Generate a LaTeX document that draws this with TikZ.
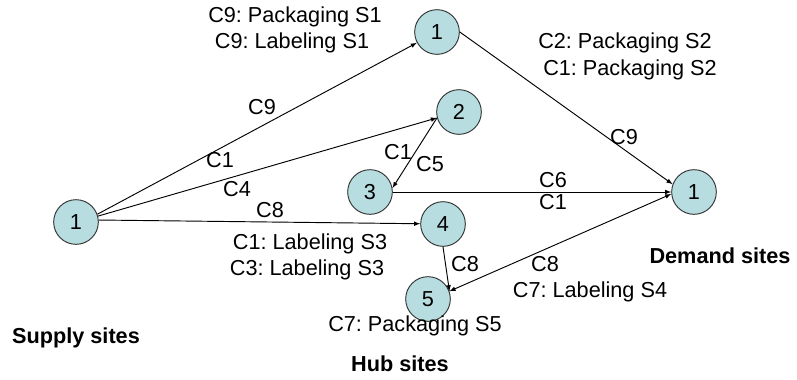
\documentclass[tikz,border=0pt]{standalone}
\usepackage{fontspec}
\setmainfont{Liberation Sans}
\usetikzlibrary{arrows}
\definecolor{sitefill}{RGB}{183,221,224}
\tikzset{
  site/.style={circle, draw=black!80, fill=sitefill, line width=0.8pt, minimum size=1.34cm, inner sep=0pt},
  flow/.style={-latex, line width=0.8pt},
  lbl/.style={inner sep=0pt},
  title/.style={inner sep=0pt, font=\fontsize{18.5}{22}\selectfont\bfseries}
}
\begin{document}
\frenchspacing
\begin{tikzpicture}[x=0.03cm, y=-0.03cm, font=\fontsize{18.5}{22}\selectfont]
	\useasboundingbox (0,0) rectangle (797,379);
	% sites
	\node[site] (s1) at (76,222) {1};
	\node[site] (h1) at (437,32) {1};
	\node[site] (h2) at (459,112) {2};
	\node[site] (h3) at (370,192) {3};
	\node[site] (h4) at (443,224) {4};
	\node[site] (h5) at (428,299) {5};
	\node[site] (d1) at (694,192) {1};
	% flows
	\draw[flow] (s1.20) -- (h1);
	\draw[flow] (s1.15) -- (h2.195);
	\draw[flow] (s1.5) -- (h4);
	\draw[flow] (h2.195) -- (h3.10);
	\draw[flow] (h1.east) -- (d1.160);
	\draw[flow] (h3) -- (d1);
	\draw[flow] (h4.south) -- (h5.20);
	\draw[flow, latex-latex] (h5.20) -- (d1.185);
	% labels
	\node[lbl] (t1) at (295,17) {C9: Packaging S1};
	\node[lbl] (t2) at (292,43) {C9: Labeling S1};
	\node[lbl] (t3) at (625,43) {C2: Packaging S2};
	\node[lbl] (t4) at (630,70) {C1: Packaging S2};
	\node[lbl] (t5) at (262,107) {C9};
	\node[lbl] (t6) at (624,137) {C9};
	\node[lbl] (t7) at (220,160) {C1};
	\node[lbl] (t8) at (237,189) {C4};
	\node[lbl] (t9) at (270,210) {C8};
	\node[lbl] (t10) at (398,152) {C1};
	\node[lbl] (t11) at (430,164) {C5};
	\node[lbl] (t12) at (553,180) {C6};
	\node[lbl] (t13) at (553,202) {C1};
	\node[lbl] (t14) at (310,244) {C1: Labeling S3};
	\node[lbl] (t15) at (307,270) {C3: Labeling S3};
	\node[lbl] (t16) at (465,264) {C8};
	\node[lbl] (t17) at (545,264) {C8};
	\node[lbl] (t18) at (590,292) {C7: Labeling S4};
	\node[lbl] (t19) at (415,326) {C7: Packaging S5};
	% site groups
	\node[title] (sup) at (76,338) {Supply sites};
	\node[title] (hub) at (400,364) {Hub sites};
	\node[title] (dem) at (720,256) {Demand sites};
\end{tikzpicture}
\end{document}
